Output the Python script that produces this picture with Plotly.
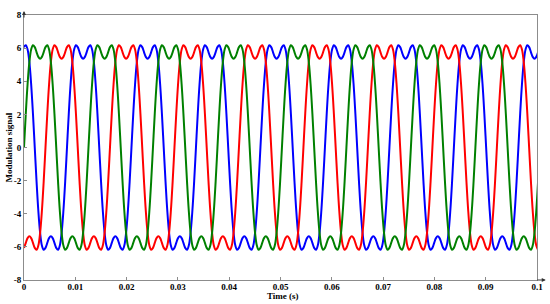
import plotly.graph_objects as go

# one cycle of the modulation signal, every 10 degrees
cycle_shape = [0.0, 2.04, 3.82, 5.15, 5.92, 6.18, 6.06, 5.76, 5.47,
               5.36, 5.47, 5.76, 6.06, 6.18, 5.92, 5.15, 3.82, 2.04,
               0.0, -2.04, -3.82, -5.15, -5.92, -6.18, -6.06, -5.76, -5.47,
               -5.36, -5.47, -5.76, -6.06, -6.18, -5.92, -5.15, -3.82, -2.04]
period_s = 0.01257   # about 8 cycles in 0.1 s
t_end = 0.1

phase_names = ['Phase b', 'Phase c', 'Phase a']
phase_colors = ['#0000FF', '#FF0000', '#008000']
phase_shift = [12, 24, 0]   # in samples of the cycle (120 deg = 12 samples)

x_ticks = [0, 0.01, 0.02, 0.03, 0.04, 0.05, 0.06, 0.07, 0.08, 0.09, 0.1]
x_ticktext = ['0', '0.01', '0.02', '0.03', '0.04', '0.05', '0.06', '0.07', '0.08', '0.09', '0.1']
y_ticks = [-8, -6, -4, -2, 0, 2, 4, 6, 8]
y_ticktext = ['-8', '-6', '-4', '-2', '0', '2', '4', '6', '8']

steps = len(cycle_shape)
dt = period_s / steps
n = int(t_end / dt) + 2
time = [i * dt for i in range(n)]

fig = go.Figure()
for name, color, shift in zip(phase_names, phase_colors, phase_shift):
    vals = [cycle_shape[(i + shift) % steps] for i in range(n)]
    fig.add_trace(go.Scatter(x=time, y=vals, mode='lines', name=name,
                             line=dict(color=color, width=2, shape='spline', smoothing=1.0)))

tick_font = dict(family='Liberation Serif', size=9, color='black', weight='bold')
axis_common = dict(showline=True, linecolor='#8c8c8c', linewidth=1, mirror=True,
                   ticks='inside', ticklen=3, tickcolor='#8c8c8c', showgrid=False,
                   zeroline=False, tickfont=tick_font, automargin=False)

fig.update_layout(
    width=550, height=304,
    margin=dict(l=24, r=13, t=15, b=24),
    paper_bgcolor='white', plot_bgcolor='white',
    showlegend=False,
    xaxis=dict(range=[0, t_end], tickvals=x_ticks, ticktext=x_ticktext,
               ticklabelstandoff=-2, **axis_common),
    yaxis=dict(range=[-8, 8], tickvals=y_ticks, ticktext=y_ticktext, **axis_common),
    annotations=[
        dict(text='Time (s)', xref='paper', yref='paper', x=0.505, y=-0.062,
             xanchor='center', yanchor='middle', showarrow=False,
             font=dict(family='Liberation Serif', size=9, color='black', weight='bold')),
        dict(text='Modulation signal', xref='paper', yref='paper', x=-0.031, y=0.5,
             xanchor='center', yanchor='middle', textangle=-90, showarrow=False,
             font=dict(family='Liberation Serif', size=9, color='black', weight='bold')),
        # axis arrow heads
        dict(x=1.017, y=0, xref='paper', yref='paper', ax=-10, ay=0, text='',
             showarrow=True, arrowhead=2, arrowsize=0.8, arrowwidth=1, arrowcolor='#333333'),
        dict(x=0, y=1.015, xref='paper', yref='paper', ax=0, ay=8, text='',
             showarrow=True, arrowhead=2, arrowsize=0.8, arrowwidth=1, arrowcolor='#333333'),
    ],
)

# the page's default body margin would shift the figure, so drop it
fig.write_html('out.html', config={'displayModeBar': False},
               post_script="document.body.style.margin='0';")
